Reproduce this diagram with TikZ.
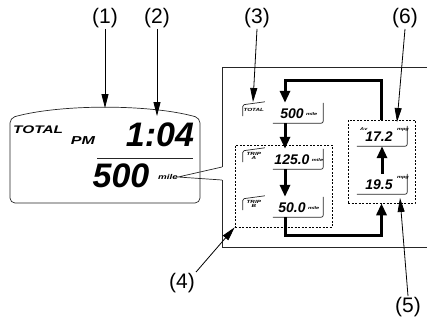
\documentclass[tikz,border=0pt]{standalone}
\usepackage{fontspec}
\setmainfont{Liberation Sans}
\newfontfamily\lcdwide[FakeStretch=1.4]{Liberation Sans}
\usetikzlibrary{arrows.meta, positioning, fit}

\begin{document}
\begin{tikzpicture}[
    x=1pt, y=-1pt,
    lbl/.style={font=\fontsize{21}{23}\selectfont, inner sep=1pt},
    lead/.style={-{Triangle[length=14pt, width=7pt]}, line width=0.8pt},
    flow/.style={-{Triangle[length=12pt, width=10pt]}, line width=3pt},
    seg/.style={inner sep=0pt, font=\bfseries\itshape},
    big/.style={seg, font=\fontsize{34}{34}\selectfont\bfseries\itshape},
    num/.style={seg, font=\fontsize{14}{14}\selectfont\bfseries\itshape},
    unit/.style={seg, font=\fontsize{4}{4}\lcdwide\bfseries\itshape},
    tag/.style={seg, font=\fontsize{4.5}{4.5}\lcdwide\bfseries\itshape, align=center},
    mini/.style={minimum width=50pt, minimum height=20pt, inner sep=0pt},
    grp/.style={draw, dash pattern=on 2pt off 1.5pt, line width=0.6pt},
    frame/.style={line width=0.7pt, draw=black!85}
    ]
  \useasboundingbox (0,0) rectangle (427,322);

  % main display
  \draw[frame, rounded corners=5pt] (10,203) -- (10,118)
    .. controls (60,104) and (150,104) .. (200,118) -- (200,203) -- cycle;
  \node[seg, font=\fontsize{11}{11}\lcdwide\bfseries\itshape, anchor=west] (total) at (13,130) {TOTAL};
  \node[seg, font=\fontsize{11.5}{11.5}\lcdwide\bfseries\itshape] (pm) at (83,141) {PM};
  \node[big] (clock) at (160,135) {1:04};
  \draw[frame] (97,158) -- (193,158);
  \node[big] (odo) at (121,176) {500};
  \node[seg, font=\fontsize{7}{7}\lcdwide\bfseries\itshape] (mile) at (168,177) {mile};

  % enlarged view
  \coordinate (vtop) at (222,167);
  \coordinate (vbot) at (222,180);
  \draw[frame] (427,67) -- (222,67) -- (vtop);
  \draw[frame] (vbot) -- (222,247) -- (427,247);
  \draw[frame] (vtop) -- (mile.east) -- (vbot);

  \node[mini] (mtot) at (298,113) {};
  \node[mini] (mta)  at (298,159) {};
  \node[mini] (mtb)  at (298,207) {};
  \node[mini] (mavg) at (382,136) {};
  \node[mini] (mcur) at (382,184) {};

  \foreach \m in {mtot, mta, mtb, mavg, mcur}
    \draw[frame, rounded corners=2pt] (\m.south west) -- (\m.south east) -- (\m.north east);

  \foreach \m/\t in {mtot/TOTAL, mta/{TRIP\\A}, mtb/{TRIP\\B}} {
    \draw[frame, rounded corners=1.5pt] ([shift={(-30pt,-3pt)}]\m.west)
      -- ([shift={(-30pt,-2pt)}]\m.north west) -- ([shift={(-8pt,1pt)}]\m.north west);
    \node[tag] at ([shift={(-19pt,3pt)}]\m.west) {\t};
  }

  \node[num] (ntot) at ([shift={(-6pt,-1pt)}]mtot.center) {500};
  \node[num] (nta)  at ([shift={(-6pt,-1pt)}]mta.center) {125.0};
  \node[num] (ntb)  at ([shift={(-6pt,-1pt)}]mtb.center) {50.0};
  \node[num] (navg) at ([shift={(-3pt,-1pt)}]mavg.center) {17.2};
  \node[num] (ncur) at ([shift={(-3pt,-1pt)}]mcur.center) {19.5};
  \foreach \n in {ntot, nta, ntb}
    \node[unit, right=2pt of \n] {mile};
  \foreach \n in {navg, ncur}
    \node[unit, anchor=south west] at ([xshift=4pt]\n.north east) {mpg};
  \node[unit, anchor=north west] at ([shift={(-22pt,-2pt)}]mavg.north) {Av};

  \node[grp, minimum width=97pt, minimum height=82pt] (gab)  at (283.5,186) {};
  \node[grp, minimum width=67pt, minimum height=83pt] (gmpg) at (381.5,161.5) {};

  \draw[flow] ([xshift=-13pt]mtot.south) -- ([xshift=-13pt]mta.north);
  \draw[flow] ([xshift=-13pt]mta.south) -- ([xshift=-13pt]mtb.north);
  \draw[flow] (mcur.north) -- (mavg.south);
  \draw[flow] (gmpg.north) -- ++(0,-39) -| ([xshift=-13pt]mtot.north);
  \draw[flow] ([xshift=-13pt]mtb.south) -- ++(0,18) -| (gmpg.south);

  % callouts
  \node[lbl] (n1) at (105,18) {(1)};
  \node[lbl] (n2) at (157,18) {(2)};
  \node[lbl] (n3) at (257,18) {(3)};
  \node[lbl] (n6) at (405,18) {(6)};
  \node[lbl] (n4) at (182,283) {(4)};
  \node[lbl] (n5) at (408,307) {(5)};

  \coordinate (t1) at (105,108);
  \coordinate (t2) at (157,116);
  \coordinate (t3) at (253,102);
  \coordinate (t6) at (397,122);
  \coordinate (t5) at (400,198);

  \draw[lead] (n1.south) -- (t1);
  \draw[lead] (n2.south) -- (t2);
  \draw[lead] (n3.south) -- (t3);
  \draw[lead] (n6.south) -- (t6);
  \draw[lead] (n5.north) -- (t5);
  \draw[lead] (n4.north east) -- (gab.south west);
\end{tikzpicture}
\end{document}
